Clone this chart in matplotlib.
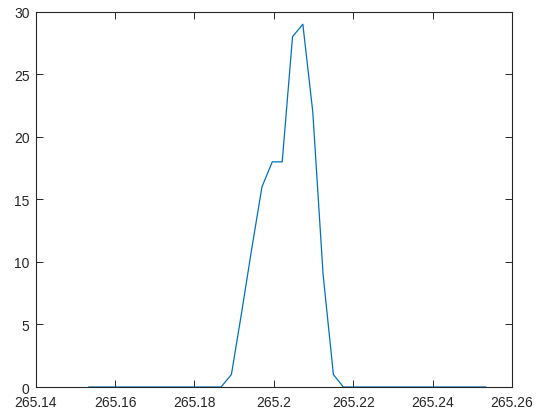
import matplotlib
matplotlib.use('Agg')
import matplotlib.pyplot as plt

# sample positions and counts
x_vals = [265.1534, 265.1560, 265.1585, 265.1611, 265.1637, 265.1662, 265.1688,
          265.1713, 265.1739, 265.1765, 265.1790, 265.1816, 265.1842, 265.1867,
          265.1893, 265.1919, 265.1944, 265.1970, 265.1996, 265.2021, 265.2047,
          265.2073, 265.2098, 265.2124, 265.2150, 265.2175, 265.2201, 265.2227,
          265.2252, 265.2278, 265.2304, 265.2329, 265.2355, 265.2380, 265.2406,
          265.2432, 265.2457, 265.2483, 265.2509, 265.2534]
y_vals = [0, 0, 0, 0, 0, 0, 0, 0, 0, 0, 0, 0, 0, 0,
          1, 6, 11, 16, 18, 18, 28, 29, 22, 9, 1, 0,
          0, 0, 0, 0, 0, 0, 0, 0, 0, 0, 0, 0, 0, 0]

x_ticks = [265.14, 265.16, 265.18, 265.2, 265.22, 265.24, 265.26]
x_tick_labels = ['265.14', '265.16', '265.18', '265.2', '265.22', '265.24', '265.26']
y_ticks = [0, 5, 10, 15, 20, 25, 30]

plt.rcParams['font.family'] = ['Liberation Sans', 'DejaVu Sans']

fig = plt.figure(figsize=(5.38, 4.14), dpi=100)
ax = fig.add_axes([0.0664, 0.0628, 0.8853, 0.9065])

ax.plot(x_vals, y_vals, color='#0072BD', linewidth=0.9)

ax.set_xlim(265.14, 265.26)
ax.set_ylim(0, 30)
ax.set_xticks(x_ticks)
ax.set_xticklabels(x_tick_labels)
ax.set_yticks(y_ticks)

axis_col = '#262626'
for s in ax.spines.values():
    s.set_color(axis_col)
    s.set_linewidth(0.8)
ax.tick_params(direction='in', length=5, width=0.7, colors=axis_col,
               labelsize=10, top=True, right=True)
ax.tick_params(axis='x', pad=6)
ax.tick_params(axis='y', pad=4.5)

fig.savefig('out.png', dpi=100)
